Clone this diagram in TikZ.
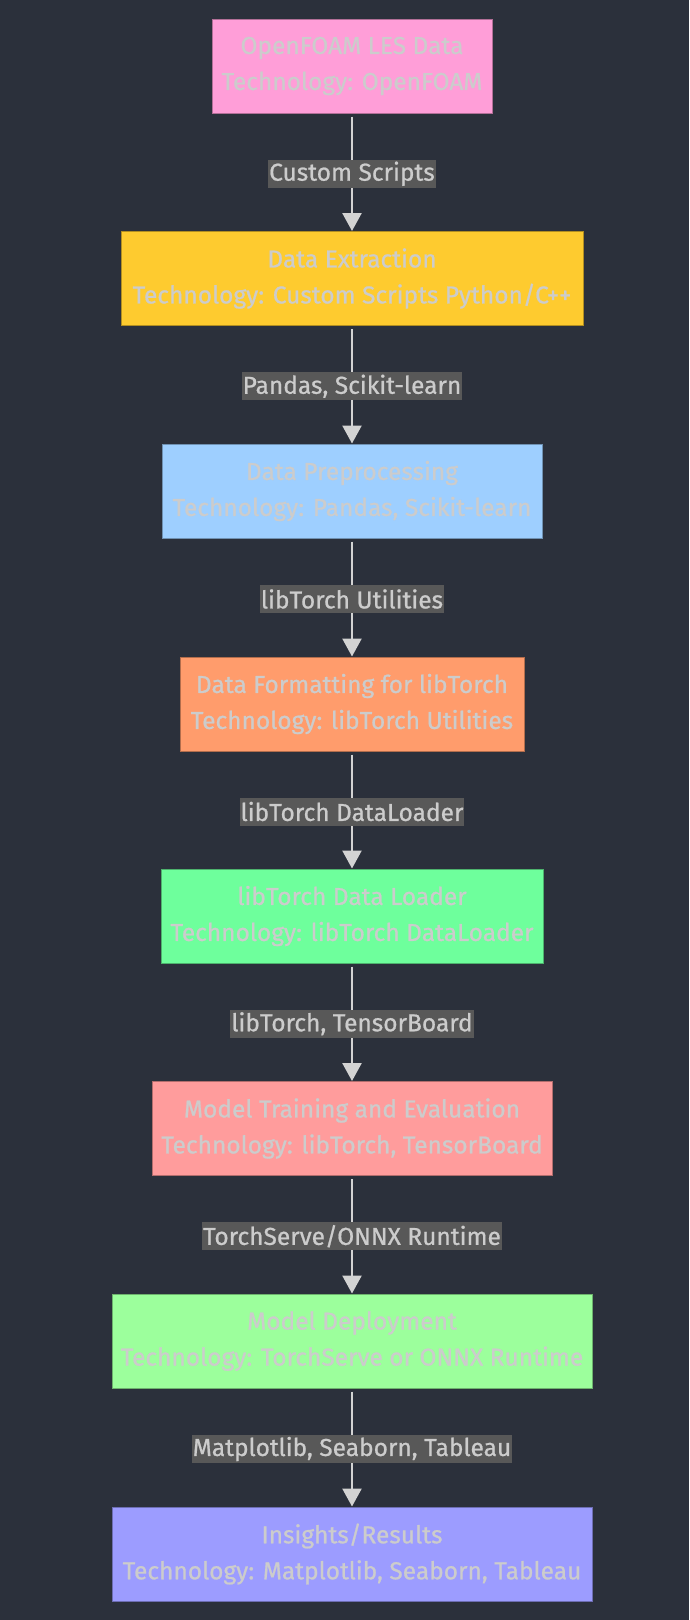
\documentclass[tikz,border=0pt]{standalone}
\usepackage{fontspec}
\setmainfont{Fira Sans}
\newfontfamily\diagfont[FakeBold=0.8]{Fira Sans}
\usetikzlibrary{arrows.meta}
\definecolor{bgc}{HTML}{2B303B}
\definecolor{txtc}{HTML}{CCCCCC}
\definecolor{lblbg}{HTML}{585858}
\definecolor{linec}{HTML}{D3D3D3}
\definecolor{cA}{HTML}{FF9ED8}
\definecolor{cB}{HTML}{FECB2F}
\definecolor{cC}{HTML}{9ECFFF}
\definecolor{cD}{HTML}{FF9C6C}
\definecolor{cE}{HTML}{6EFF9C}
\definecolor{cF}{HTML}{FF9C9C}
\definecolor{cG}{HTML}{9CFF9C}
\definecolor{cH}{HTML}{9C9CFF}
\tikzset{
  stepbox/.style={draw=#1!70!black, fill=#1, line width=1pt, minimum height=94pt,
    align=center, text=txtc, font=\diagfont\fontsize{24.5}{36}\selectfont, inner sep=0pt},
  edgelbl/.style={fill=lblbg, text=txtc, font=\diagfont\fontsize{24.5}{28}\selectfont,
    minimum height=28pt, inner xsep=1pt, inner ysep=0pt},
  flow/.style={draw=linec, line width=2.5pt, -{Triangle[length=18pt,width=19pt]}}
}
\begin{document}
\begin{tikzpicture}[x=1pt,y=-1pt]
\fill[bgc] (0,0) rectangle (689,1620);
\useasboundingbox (0,0) rectangle (689,1620);
\node[stepbox=cA, minimum width=280pt] (n1) at (352,66) {OpenFOAM LES Data\\Technology: OpenFOAM};
\node[stepbox=cB, minimum width=462pt] (n2) at (352,278.5) {Data Extraction\\Technology: Custom Scripts Python/C++};
\node[stepbox=cC, minimum width=380pt] (n3) at (352,491) {Data Preprocessing\\Technology: Pandas, Scikit-learn};
\node[stepbox=cD, minimum width=344pt] (n4) at (352,704) {Data Formatting for libTorch\\Technology: libTorch Utilities};
\node[stepbox=cE, minimum width=382pt] (n5) at (352,916) {libTorch Data Loader\\Technology: libTorch DataLoader};
\node[stepbox=cF, minimum width=400pt] (n6) at (352,1128.5) {Model Training and Evaluation\\Technology: libTorch, TensorBoard};
\node[stepbox=cG, minimum width=480pt] (n7) at (352,1341) {Model Deployment\\Technology: TorchServe or ONNX Runtime};
\node[stepbox=cH, minimum width=480pt] (n8) at (352,1554) {Insights/Results\\Technology: Matplotlib, Seaborn, Tableau};
\foreach \a/\b/\t in {n1/n2/{Custom Scripts}, n2/n3/{Pandas, Scikit-learn}, n3/n4/{libTorch Utilities},
  n4/n5/{libTorch DataLoader}, n5/n6/{libTorch, TensorBoard}, n6/n7/{TorchServe/ONNX Runtime},
  n7/n8/{Matplotlib, Seaborn, Tableau}}{
  \draw[flow] ([yshift=-3pt]\a.south) -- (\b.north) node[midway, edgelbl] {\t};
}
\end{tikzpicture}
\end{document}
